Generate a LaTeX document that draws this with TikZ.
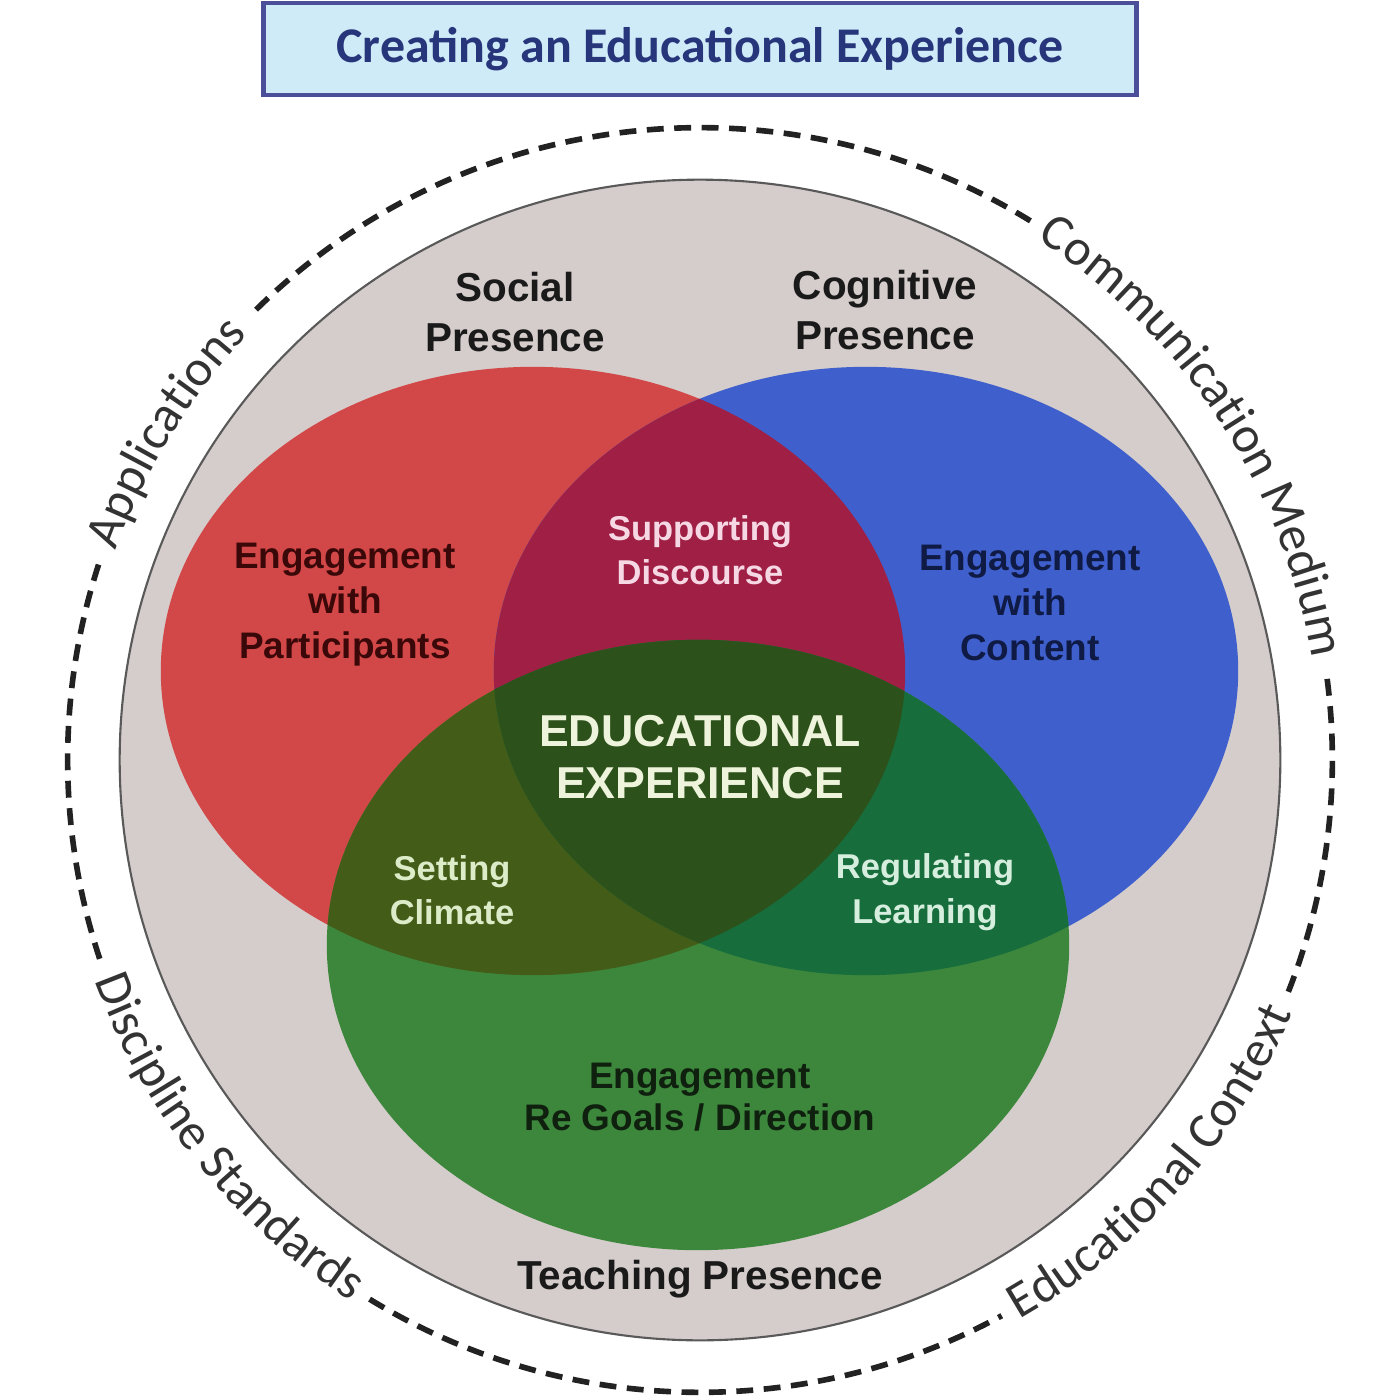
\documentclass[tikz,border=0pt]{standalone}
\usepackage{fontspec}
\setmainfont{Liberation Sans}
\newfontfamily\carlito{Carlito}
\usetikzlibrary{decorations.text,calc}
\definecolor{ringgray}{HTML}{D5CDCB}
\definecolor{vred}{HTML}{D24747}
\definecolor{vblue}{HTML}{3F60CC}
\definecolor{vgreen}{HTML}{3D873D}
\definecolor{vmaroon}{HTML}{A01F45}
\definecolor{volive}{HTML}{435C17}
\definecolor{vteal}{HTML}{176D3C}
\definecolor{vcenter}{HTML}{2D511B}
\definecolor{titlefill}{HTML}{CFEBF8}
\definecolor{titledraw}{HTML}{4B4F9A}
\definecolor{titletext}{HTML}{27357A}
\definecolor{curvegray}{HTML}{333333}
\definecolor{dashcol}{HTML}{222222}
\definecolor{lblblack}{HTML}{1A1A1A}
\definecolor{particcol}{HTML}{3A0808}
\definecolor{contentcol}{HTML}{0F1A45}
\definecolor{supportcol}{HTML}{F6D8E4}
\definecolor{educol}{HTML}{EEF3DC}
\definecolor{settingcol}{HTML}{DCEBC8}
\definecolor{regcol}{HTML}{D6EEDD}
\definecolor{goalscol}{HTML}{0F200F}
\newcommand\curvefont{\carlito\fontsize{14.5pt}{16pt}\selectfont}
\tikzset{
  lbl/.style={align=center, font=\bfseries\fontsize{11.5pt}{14.2pt}\selectfont, text=lblblack, inner sep=0pt},
  inlbl/.style={align=center, font=\bfseries\fontsize{10.5pt}{12.8pt}\selectfont, inner sep=0pt},
  smlbl/.style={align=center, font=\bfseries\fontsize{9.8pt}{12.6pt}\selectfont, inner sep=0pt},
  ringdash/.style={draw=dashcol, line width=1.6pt, dash pattern=on 4.8pt off 3pt},
  curvetext/.style={decorate, decoration={text along path, text align=center, text color=curvegray, text={|\curvefont|#1}}}
}
\begin{document}
\begin{tikzpicture}[x=0.01cm,y=0.01cm]
\useasboundingbox (0,0) rectangle (1400,-1400);
\fill[white] (0,0) rectangle (1400,-1400);
\coordinate (C) at (700,-760);
% title
\node[draw=titledraw, line width=1.4pt, fill=titlefill, minimum width=8.73cm, minimum height=0.92cm, inner sep=0pt,
  font=\carlito\bfseries\fontsize{14.2pt}{16pt}\selectfont, text=titletext] (title) at (700,-49) {Creating an Educational Experience};
% gray ring
\fill[ringgray, draw=black!65, line width=0.6pt] (C) circle[radius=5.8cm];
% dashed outer circle arcs
\draw[ringdash] ($(C)+(162:6.32cm)$) arc[start angle=162, end angle=198.5, radius=6.32cm];
\draw[ringdash] ($(C)+(238.5:6.32cm)$) arc[start angle=238.5, end angle=298.5, radius=6.32cm];
\draw[ringdash] ($(C)+(-21.5:6.32cm)$) arc[start angle=-21.5, end angle=8, radius=6.32cm];
\draw[ringdash] ($(C)+(58.5:6.32cm)$) arc[start angle=58.5, end angle=135, radius=6.32cm];
% curved texts
\path[curvetext=Applications] ($(C)+(165:6.2cm)$) arc[start angle=165, end angle=132, radius=6.2cm];
\path[curvetext=Communication Medium] ($(C)+(63:6.2cm)$) arc[start angle=63, end angle=3.6, radius=6.2cm];
\path[curvetext=Educational Context] ($(C)+(-71:6.44cm)$) arc[start angle=-71, end angle=-12.4, radius=6.44cm];
\path[curvetext=Discipline Standards] ($(C)+(190:6.44cm)$) arc[start angle=190, end angle=247.2, radius=6.44cm];
% Venn ellipses
\def\redE{(533,-671) ellipse[x radius=3.72cm, y radius=3.04cm]}
\def\blueE{(866,-671) ellipse[x radius=3.72cm, y radius=3.04cm]}
\def\greenE{(698,-945) ellipse[x radius=3.71cm, y radius=3.05cm]}
\fill[vred] \redE;
\fill[vblue] \blueE;
\fill[vgreen] \greenE;
\begin{scope}
  \clip \redE;
  \fill[vmaroon] \blueE;
  \fill[volive] \greenE;
\end{scope}
\begin{scope}
  \clip \blueE;
  \fill[vteal] \greenE;
\end{scope}
\begin{scope}
  \clip \redE;
  \clip \blueE;
  \fill[vcenter] \greenE;
\end{scope}
% labels
\node[lbl] (social) at (515,-312) {Social\\Presence};
\node[lbl] (cognitive) at (885,-310) {Cognitive\\Presence};
\node[lbl] (teaching) at (700,-1279) {Teaching Presence};
\node[inlbl, text=particcol] (partic) at (345,-605) {Engagement\\with\\Participants};
\node[inlbl, text=contentcol] (content) at (1030,-603) {Engagement\\with\\Content};
\node[smlbl, text=supportcol] (support) at (700,-550) {Supporting\\Discourse};
\node[align=center, font=\bfseries\fontsize{12.7pt}{14.8pt}\selectfont, inner sep=0pt, text=educol] (edu) at (700,-757) {EDUCATIONAL\\EXPERIENCE};
\node[smlbl, text=settingcol] (setting) at (452,-890) {Setting\\Climate};
\node[smlbl, text=regcol] (regulating) at (925,-892) {Regulating\\Learning};
\node[inlbl, font=\bfseries\fontsize{10.5pt}{12pt}\selectfont, text=goalscol] (goals) at (700,-1097) {Engagement\\Re Goals / Direction};
\end{tikzpicture}
\end{document}
